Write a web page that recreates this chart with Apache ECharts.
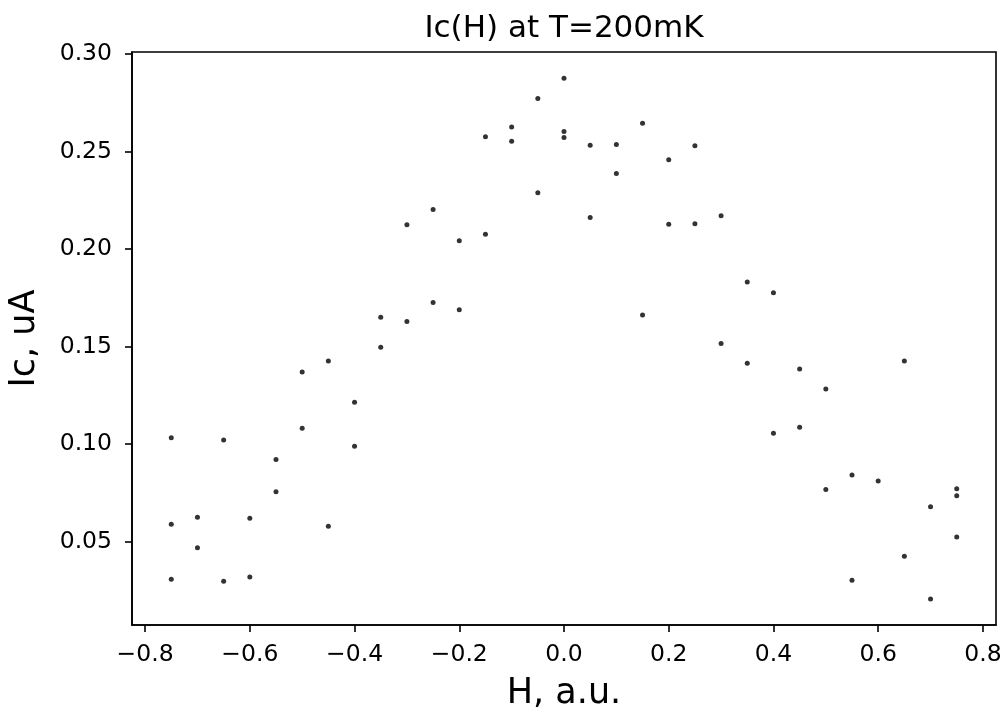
<!DOCTYPE html>
<html>
<head>
<meta charset="utf-8">
<script src="https://cdn.jsdelivr.net/npm/echarts@6/dist/echarts.min.js"></script>
<style>
html,body{margin:0;padding:0;background:#fff;}
#chart{width:1006px;height:711px;}
</style>
</head>
<body>
<div id="chart"></div>
<script>
// Field values (H, a.u.)
const hValues = [
  -0.75, -0.75, -0.75,
  -0.70, -0.70,
  -0.65, -0.65,
  -0.60, -0.60,
  -0.55, -0.55,
  -0.50, -0.50,
  -0.45, -0.45,
  -0.40, -0.40,
  -0.35, -0.35,
  -0.30, -0.30,
  -0.25, -0.25,
  -0.20, -0.20,
  -0.15, -0.15,
  -0.10, -0.10,
  -0.05, -0.05,
  0.00, 0.00, 0.00,
  0.05, 0.05,
  0.10, 0.10,
  0.15, 0.15,
  0.20, 0.20,
  0.25, 0.25,
  0.30, 0.30,
  0.35, 0.35,
  0.40, 0.40,
  0.45, 0.45,
  0.50, 0.50,
  0.55, 0.55,
  0.60,
  0.65, 0.65,
  0.70, 0.70,
  0.75, 0.75, 0.75
];
// Critical current values (Ic, uA)
const icValues = [
  0.1032, 0.0588, 0.0307,
  0.0625, 0.0468,
  0.1021, 0.0296,
  0.0619, 0.0318,
  0.0921, 0.0755,
  0.1369, 0.1081,
  0.1426, 0.0578,
  0.1214, 0.0988,
  0.1650, 0.1496,
  0.2124, 0.1628,
  0.2202, 0.1725,
  0.2042, 0.1688,
  0.2575, 0.2076,
  0.2625, 0.2553,
  0.2772, 0.2288,
  0.2876, 0.2602, 0.2572,
  0.2532, 0.2161,
  0.2536, 0.2387,
  0.2645, 0.1662,
  0.2457, 0.2127,
  0.2529, 0.2130,
  0.2171, 0.1515,
  0.1831, 0.1414,
  0.1776, 0.1055,
  0.1385, 0.1086,
  0.1282, 0.0767,
  0.0841, 0.0301,
  0.0810,
  0.1426, 0.0424,
  0.0678, 0.0205,
  0.0771, 0.0735, 0.0523
];
const xTicks = [-0.8, -0.6, -0.4, -0.2, 0.0, 0.2, 0.4, 0.6, 0.8];
const yTicks = [0.05, 0.10, 0.15, 0.20, 0.25, 0.30];
const titleText = 'Ic(H) at T=200mK';
const xName = 'H, a.u.';
const yName = 'Ic, uA';

const points = hValues.map((h, i) => [h, icValues[i]]);
const FONT = 'DejaVu Sans';

const chart = echarts.init(document.getElementById('chart'), null, {renderer: 'canvas'});
chart.setOption({
  animation: false,
  backgroundColor: '#ffffff',
  title: {
    text: titleText,
    left: 559,
    top: 8,
    textAlign: 'center',
    textStyle: {fontFamily: FONT, fontSize: 31, fontWeight: 'normal', color: '#000'}
  },
  grid: {
    left: 132, right: 10, top: 52, bottom: 86,
    outerBoundsMode: 'none',
    containLabel: false,
    show: true, borderColor: '#000', borderWidth: 1.6, backgroundColor: 'transparent'
  },
  xAxis: {
    type: 'value',
    min: -0.825, max: 0.825,
    name: xName,
    nameLocation: 'middle',
    nameGap: 51,
    nameTextStyle: {fontFamily: FONT, fontSize: 35, color: '#000'},
    axisLine: {show: true, onZero: false, lineStyle: {color: '#000', width: 1.6}},
    axisTick: {show: true, length: 7, inside: false, customValues: xTicks, lineStyle: {color: '#000', width: 1.6}},
    axisLabel: {
      show: true, customValues: xTicks, margin: 18,
      fontFamily: FONT, fontSize: 23.5, color: '#000',
      formatter: v => (v < 0 ? '\u2212' : '') + Math.abs(v).toFixed(1)
    },
    splitLine: {show: false}
  },
  yAxis: {
    type: 'value',
    min: 0.0072, max: 0.301,
    name: yName,
    nameLocation: 'middle',
    nameGap: 90,
    nameRotate: 90,
    nameTextStyle: {fontFamily: FONT, fontSize: 35, color: '#000'},
    axisLine: {show: true, onZero: false, lineStyle: {color: '#000', width: 1.6}},
    axisTick: {show: true, length: 7, inside: false, customValues: yTicks, lineStyle: {color: '#000', width: 1.6}},
    axisLabel: {
      show: true, customValues: yTicks, margin: 20,
      fontFamily: FONT, fontSize: 23.5, color: '#000',
      formatter: v => v.toFixed(2)
    },
    splitLine: {show: false}
  },
  series: [{
    type: 'scatter',
    data: points,
    symbol: 'circle',
    symbolSize: 5,
    itemStyle: {color: '#000'},
    silent: true
  }]
});
</script>
</body>
</html>
